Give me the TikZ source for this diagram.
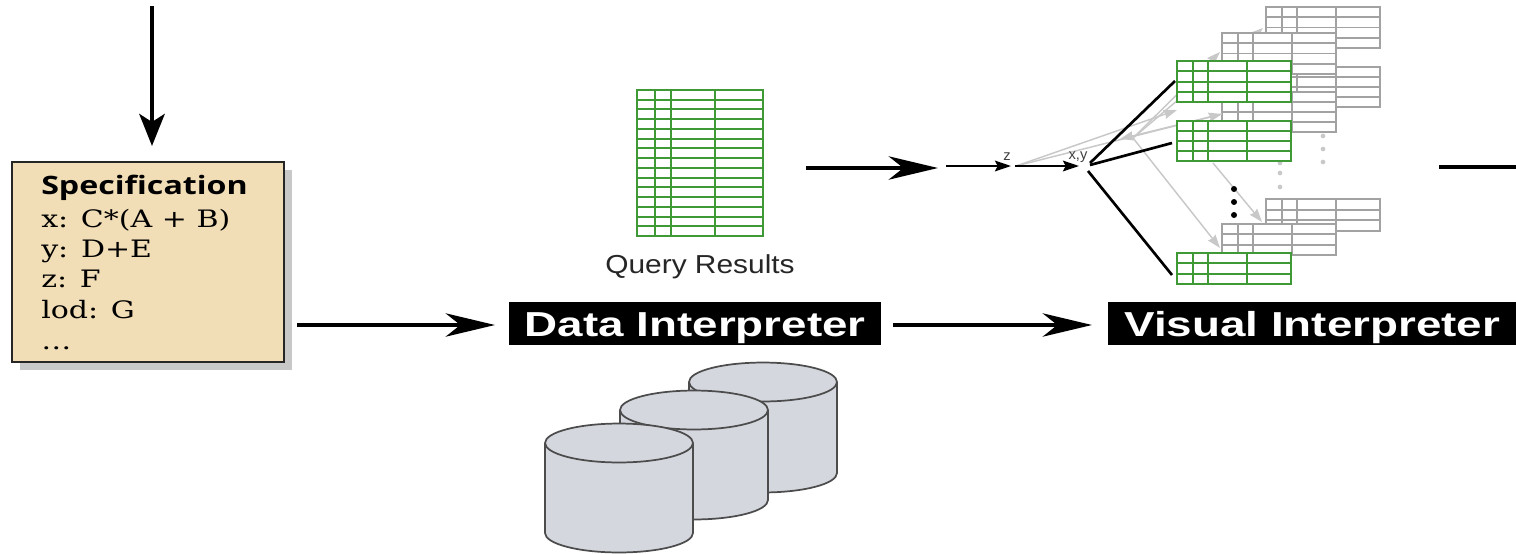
\documentclass[tikz,border=0pt]{standalone}
\usepackage{fontspec}
\setmainfont{Liberation Sans}
\newfontfamily\serifbox[FakeStretch=1.25]{DejaVu Serif}
\newfontfamily\headbox[FakeStretch=1.27]{Open Sans}
\newfontfamily\barfont[FakeStretch=1.32]{Liberation Sans}
\newfontfamily\qrfont[FakeStretch=1.15]{Liberation Sans}
\usetikzlibrary{arrows.meta,shapes.geometric}
\definecolor{tgreen}{HTML}{3F9A35}
\definecolor{tgray}{HTML}{A2A2A2}
\definecolor{lgray}{HTML}{C8C8C8}
\definecolor{cylfill}{HTML}{D4D7DE}
\definecolor{specfill}{HTML}{F1DDB6}
\tikzset{
  x=0.75pt,y=-0.75pt,
  bigarrow/.style={line width=2.6pt,-{Stealth[length=37pt,width=17.5pt,inset=11pt]}},
  downarrow/.style={line width=3.2pt,-{Stealth[length=24pt,width=19pt,inset=6pt]}},
  plainline/.style={line width=2.6pt},
  thinarrow/.style={line width=1.5pt,-{Stealth[length=12pt,width=8pt,inset=2pt]}},
  fanline/.style={line width=2pt},
  grayarrow/.style={draw=lgray,line width=1.1pt,-{Stealth[length=10pt,width=7pt,inset=1pt]}},
  bar/.style={fill=black,text=white,font=\barfont\fontsize{26}{30}\selectfont\bfseries,inner sep=0pt,anchor=north west},
  dotk/.style={circle,fill=black,inner sep=0pt,minimum size=4.5pt},
  dotg/.style={circle,fill=lgray,inner sep=0pt,minimum size=3.5pt},
  lab/.style={inner sep=0pt,font=\fontsize{11}{12}\selectfont,text=black!75},
  speclab/.style={anchor=base west,inner sep=0pt,font=\serifbox\fontsize{18}{20}\selectfont},
}
% #1 name, #2 x0, #3 y0, #4 x1, #5 y1, #6 rows, #7 colour, #8 line width
\newcommand{\gridtab}[8]{%
  \pgfmathsetmacro{\tw}{(#4)-(#2)}%
  \pgfmathsetmacro{\th}{(#5)-(#3)}%
  \node[draw=#7,fill=white,line width=#8,inner sep=0pt,outer sep=0pt,anchor=north west,
        minimum width=\tw*0.75pt,minimum height=\th*0.75pt] (#1) at (#2,#3) {};
  \foreach \r in {1,...,#6}{\draw[#7,line width=#8] (#2,{#3+\th*\r/#6}) -- (#4,{#3+\th*\r/#6});}
  \foreach \c in {0.14,0.27,0.615}{\draw[#7,line width=#8] ({#2+\tw*\c},#3) -- ({#2+\tw*\c},#5);}
}
% #1 name, #2 cx, #3 top cy, #4 bottom cy
\newcommand{\cyl}[4]{%
  \coordinate (#1) at (#2,#3);
  \draw[fill=cylfill,draw=black!70,line width=1.3pt] ({#2-74},#3) -- ({#2-74},#4) arc[start angle=180,end angle=360,x radius=55.5pt,y radius=14.6pt] -- ({#2+74},#3);
  \draw[fill=cylfill,draw=black!70,line width=1.3pt] (#2,#3) ellipse[x radius=55.5pt,y radius=14.6pt];
}
\begin{document}
\begin{tikzpicture}
\useasboundingbox (0,0) rectangle (1516,553);
% spec box
\fill[lgray] (20,170) rectangle (292,370);
\node[draw=black!85,fill=specfill,line width=1.5pt,anchor=north west,inner sep=0pt,outer sep=0pt,minimum width=204pt,minimum height=150pt] (spec) at (12,162) {};
\node[anchor=base west,inner sep=0pt,font=\headbox\bfseries\fontsize{19}{20}\selectfont] (h) at (41,194) {Specification};
\node[speclab] (l1) at (41,227) {x: C*(A + B)};
\node[speclab] (l2) at (41,257) {y: D+E};
\node[speclab] (l3) at (41,287) {z: F};
\node[speclab] (l4) at (41,318) {lod: G};
\node[speclab] (l5) at (41,349) {\dots};
% bars
\node[bar,minimum width=279pt,minimum height=32.25pt] (di) at (509,302) {\raisebox{-9.4pt}[0pt][0pt]{Data Interpreter}};
\node[bar,minimum width=306pt,minimum height=32.25pt] (vi) at (1108,302) {\raisebox{-9.4pt}[0pt][0pt]{Visual Interpreter}};
% top arrow
\coordinate (topstart) at (152,6);
\coordinate (topend) at (152,146);
\draw[downarrow] (topstart) -- (topend);
\coordinate (a1) at (297,325); \coordinate (a2) at (495,325);
\draw[bigarrow] (a1) -- (a2);
\coordinate (b1) at (893,325); \coordinate (b2) at (1092,325);
\draw[bigarrow] (b1) -- (b2);
\coordinate (c1) at (806,168); \coordinate (c2) at (938,168);
\draw[bigarrow] (c1) -- (c2);
\coordinate (d1) at (1439,167); \coordinate (d2) at (1516,167);
\draw[plainline] (d1) -- (d2);
% query results
\gridtab{qr}{637}{90}{763}{236}{15}{tgreen}{1.5pt}
\node[inner sep=0pt,font=\qrfont\fontsize{19.5}{22}\selectfont,text=black!85] (qrl) at (700,267) {Query Results};
% cylinders
\cyl{cy1}{763}{382}{473}
\cyl{cy2}{694}{410}{500}
\cyl{cy3}{619}{443}{533}
% gray tables
\gridtab{g1}{1266}{7}{1380}{48}{4}{tgray}{1.3pt}
\gridtab{g2}{1266}{67}{1380}{107}{4}{tgray}{1.3pt}
\gridtab{g3}{1266}{199}{1380}{231}{3}{tgray}{1.3pt}
\coordinate (gsrc) at (1133,138);
\coordinate (zsrc) at (1016,166);
\coordinate (t1) at (1263,28);
\draw[grayarrow] (gsrc) -- (t1);
\gridtab{g4}{1222}{33}{1336}{74}{4}{tgray}{1.3pt}
\gridtab{g5}{1222}{92}{1336}{132}{4}{tgray}{1.3pt}
\gridtab{g6}{1222}{224}{1336}{255}{3}{tgray}{1.3pt}
\coordinate (t2) at (1220,52);
\coordinate (t3) at (1222,114);
\coordinate (t4) at (1177,110);
\coordinate (t5) at (1120,139);
\coordinate (t6) at (1220,248);
\coordinate (s7) at (1213,163);
\coordinate (t7) at (1262,222);
\draw[grayarrow] (gsrc) -- (t2);
\draw[grayarrow] (zsrc) -- (t3);
\draw[grayarrow] (zsrc) -- (t4);
\draw[grayarrow] (t3) -- (t5);
\draw[grayarrow] (gsrc) -- (t6);
\draw[grayarrow] (s7) -- (t7);
\foreach \i/\x/\y in {1/1323/136,2/1323/149,3/1323/162,4/1280/163,5/1280/173,6/1280/187}{\node[dotg] (gd\i) at (\x,\y) {};}
% green tables
\gridtab{f1}{1177}{61}{1291}{102}{4}{tgreen}{1.5pt}
\gridtab{f2}{1177}{121}{1291}{161}{4}{tgreen}{1.5pt}
\gridtab{f3}{1177}{253}{1291}{284}{3}{tgreen}{1.5pt}
\foreach \i/\y in {1/189,2/202,3/215}{\node[dotk] (kd\i) at (1234,\y) {};}
% small graph
\coordinate (e1) at (946,166); \coordinate (e2) at (1011,166);
\draw[thinarrow] (e1) -- (e2);
\coordinate (e3) at (1015,166); \coordinate (e4) at (1079,166);
\draw[thinarrow] (e3) -- (e4);
\node[lab] (zl) at (1007,157) {z};
\node[lab] (xyl) at (1078,157) {x,y};
\coordinate (h1) at (1090,163); \coordinate (h2) at (1090,165); \coordinate (h3) at (1088,171);
\coordinate (k1) at (1175,81); \coordinate (k2) at (1172,143); \coordinate (k3) at (1172,275);
\draw[fanline] (h1) -- (k1);
\draw[fanline] (h2) -- (k2);
\draw[fanline] (h3) -- (k3);
\end{tikzpicture}
\end{document}
